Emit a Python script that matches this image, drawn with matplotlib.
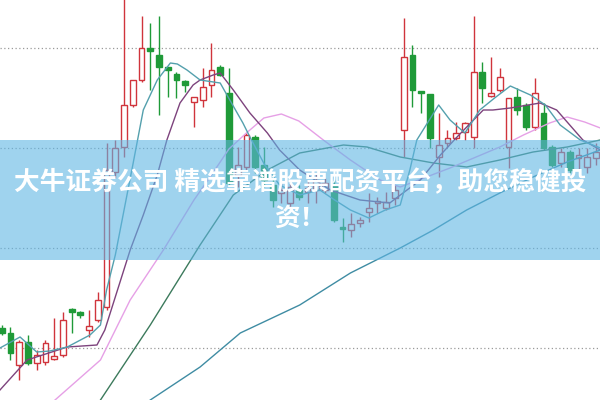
import matplotlib
matplotlib.use("Agg")
import matplotlib.pyplot as plt
from matplotlib.patches import Rectangle

# daily candles (open, high, low, close)
opens = [7.2, 6.7, 3.5, 5.8, 3.7, 3.8, 4.1, 4.5, 9.1, 8.8, 7.0, 8.0, 9.3, 22.8, 25.3, 29.5, 32.0, 35.2,
         34.5, 33.3, 32.6, 31.9, 29.8, 30.0, 31.5, 33.3, 30.7, 22.5, 23.3, 26.3, 23.5, 21.5, 20.7, 19.7,
         21.0, 20.8, 21.0, 21.0, 21.5, 17.3, 17.0, 17.7, 18.8, 19.7, 19.2, 20.2, 27.0, 34.5, 30.9, 30.6,
         24.3, 25.7, 26.2, 26.8, 26.3, 32.8, 30.4, 31.0, 25.3, 30.3, 29.5, 27.3, 28.7, 25.3, 23.7, 24.8,
         24.2, 23.3, 24.2]
highs = [7.5, 7.3, 6.0, 6.5, 5.0, 6.0, 8.2, 8.8, 9.2, 8.9, 9.0, 10.8, 25.7, 26.0, 41.0, 32.0, 38.4, 37.7,
         38.4, 33.3, 32.8, 32.0, 30.3, 33.2, 35.7, 33.5, 33.2, 25.3, 26.7, 26.5, 25.3, 22.7, 21.8, 21.7,
         21.5, 22.0, 22.7, 22.2, 22.0, 18.2, 18.7, 18.3, 20.7, 20.3, 20.8, 21.5, 38.2, 35.5, 30.9, 30.6,
         28.7, 27.0, 27.8, 27.8, 38.4, 33.8, 34.3, 33.2, 30.2, 31.2, 29.7, 32.2, 29.7, 25.5, 25.2, 25.0,
         25.2, 25.2, 25.7]
lows = [6.5, 4.0, 2.0, 3.5, 3.0, 3.5, 4.0, 4.3, 6.7, 8.2, 6.3, 7.8, 9.0, 22.2, 24.3, 29.3, 31.8, 31.0,
        28.5, 30.3, 30.2, 30.8, 27.3, 29.3, 30.3, 32.4, 21.5, 21.3, 23.0, 22.7, 21.3, 19.3, 19.7, 19.3,
        20.0, 19.7, 19.7, 20.7, 17.8, 15.8, 16.3, 17.3, 17.8, 18.7, 19.0, 19.5, 24.3, 29.3, 28.7, 25.2,
        22.3, 25.3, 26.0, 26.0, 25.2, 29.7, 30.3, 30.8, 23.2, 28.5, 27.0, 27.0, 25.0, 23.3, 23.3, 22.7,
        23.0, 22.7, 23.5]
closes = [6.7, 4.7, 5.8, 3.7, 4.5, 5.7, 4.4, 8.0, 8.8, 8.5, 7.4, 10.0, 23.0, 25.2, 29.5, 32.0, 35.2, 34.9,
          33.3, 33.0, 32.0, 31.5, 30.3, 31.3, 33.0, 32.5, 21.7, 23.5, 26.5, 23.3, 22.0, 20.0, 21.0, 21.3,
          20.3, 21.2, 22.0, 21.7, 18.0, 17.1, 17.6, 18.0, 19.2, 19.9, 19.8, 21.0, 34.3, 31.0, 30.7, 26.2,
          25.5, 26.2, 26.7, 27.7, 32.8, 31.2, 30.7, 32.3, 30.2, 29.0, 27.3, 30.7, 25.2, 23.5, 24.8, 23.0,
          24.5, 24.3, 24.8]

# moving average curves (position in candles, price)
ma5_x = [-0.2, 2.1, 4.0, 5.5, 7.5, 10.1, 11.3, 12.0, 13.0, 14.0, 15.0, 16.2, 17.8, 19.3, 20.1, 21.2,
         22.7, 25.0, 26.1, 27.6, 28.4, 30.1, 31.8, 34.1, 36.4, 38.1, 39.9, 42.0, 43.9, 45.6, 46.7, 47.5,
         50.0, 51.3, 53.0, 54.7, 56.4, 58.2, 60.5, 62.2, 63.9, 66.2, 68.5]
ma5_y = [5.2, 6.3, 4.8, 4.9, 5.3, 6.5, 7.5, 11.0, 14.5, 19.0, 23.5, 29.0, 32.0, 33.7, 33.6, 33.0,
         32.0, 31.7, 30.0, 27.7, 26.3, 23.5, 21.5, 20.5, 21.0, 20.0, 19.0, 18.2, 19.0, 19.5, 23.0, 26.0,
         29.5, 28.0, 26.7, 29.0, 30.2, 31.4, 30.5, 29.5, 27.5, 26.0, 25.2]
ma10_x = [-0.2, 2.9, 7.5, 10.9, 11.8, 14.7, 16.2, 17.8, 18.9, 20.4, 21.9, 22.7, 24.2, 25.0, 26.5, 28.4,
          30.4, 31.8, 34.1, 37.6, 41.0, 44.4, 47.9, 50.2, 52.1, 55.1, 56.2, 58.2, 61.6, 63.5, 65.0, 66.5,
          68.5]
ma10_y = [1.0, 4.0, 5.3, 5.5, 7.0, 15.0, 18.5, 22.5, 26.0, 29.7, 31.5, 32.0, 32.5, 32.7, 31.0, 28.7,
          26.7, 25.0, 23.0, 21.0, 20.0, 19.7, 22.0, 24.5, 26.3, 29.0, 29.0, 29.2, 29.7, 29.0, 27.5, 26.0,
          25.0]
ma20_x = [6.1, 11.3, 14.7, 18.5, 22.0, 24.0, 26.0, 28.0, 30.0, 32.0, 34.0, 36.8, 39.9, 43.3, 45.6,
          51.3, 57.0, 59.7, 62.7, 64.7, 66.7, 68.5]
ma20_y = [0.0, 4.0, 10.0, 15.0, 20.0, 22.5, 25.1, 26.7, 28.2, 28.6, 27.9, 26.0, 24.0, 22.0, 21.3,
          23.2, 25.3, 26.5, 27.7, 28.3, 27.8, 27.2]
ma60_x = [11.3, 17.0, 22.7, 26.5, 30.4, 34.1, 39.1, 41.8, 45.6, 49.4, 53.2, 57.0, 60.8, 64.7, 68.5]
ma60_y = [0.0, 7.5, 15.5, 20.5, 23.0, 24.7, 25.5, 25.3, 24.3, 23.7, 23.3, 24.0, 24.8, 25.3, 26.0]
ma120_x = [17.0, 22.7, 27.3, 34.1, 39.9, 45.6, 49.4, 53.2, 57.0, 60.8, 64.7, 68.5]
ma120_y = [0.0, 3.3, 6.7, 9.5, 12.7, 15.2, 17.0, 19.0, 20.7, 22.3, 23.8, 25.0]

grid_levels = [5.2, 15.2, 25.2, 35.2]

banner_line1 = "大牛证券公司 精选靠谱股票配资平台，助您稳健投"
banner_line2 = "资！"

up_color = "#d0343c"
down_color = "#1f9a38"

fig = plt.figure(figsize=(6, 4), dpi=100)
ax = fig.add_axes([0, 0, 1, 1])
ax.set_xlim(-0.195, 68.46)
ax.set_ylim(0, 40)
ax.axis("off")

for g in grid_levels:
    ax.axhline(g, color="#9a9a9a", lw=0.9, ls=(0, (1, 2)), zorder=1)

w = 0.66
for i in range(len(opens)):
    o, h, l, c = opens[i], highs[i], lows[i], closes[i]
    col = up_color if c >= o else down_color
    ax.vlines(i, l, h, color=col, lw=1.0, zorder=2)
    bottom = min(o, c)
    height = max(abs(c - o), 0.25)
    if c >= o:
        ax.add_patch(Rectangle((i - w / 2, bottom), w, height, facecolor="white",
                               edgecolor=col, lw=1.0, zorder=3))
    else:
        ax.add_patch(Rectangle((i - w / 2, bottom), w, height, facecolor=col,
                               edgecolor=col, lw=1.0, zorder=3))

ax.plot(ma120_x, ma120_y, color="#3f8ca3", lw=1.0, zorder=4)
ax.plot(ma60_x, ma60_y, color="#3c7a5c", lw=1.0, zorder=4)
ax.plot(ma20_x, ma20_y, color="#e6a0e6", lw=1.0, zorder=4)
ax.plot(ma10_x, ma10_y, color="#7d437d", lw=1.0, zorder=4)
ax.plot(ma5_x, ma5_y, color="#54a0ad", lw=1.0, zorder=4)

# semi transparent banner with the headline
ax.axhspan(14.0, 26.0, color="#5fb6e4", alpha=0.6, lw=0, zorder=5)
fig.text(0.5, 1 - 183 / 400, banner_line1, color="white", fontsize=18.5, fontweight="bold",
         ha="center", va="center", family=["Noto Sans CJK SC", "DejaVu Sans"], zorder=6)
fig.text(0.5, 1 - 218 / 400, banner_line2, color="white", fontsize=18.5, fontweight="bold",
         ha="center", va="center", family=["Noto Sans CJK SC", "DejaVu Sans"], zorder=6)

plt.savefig("out.png", dpi=100)
